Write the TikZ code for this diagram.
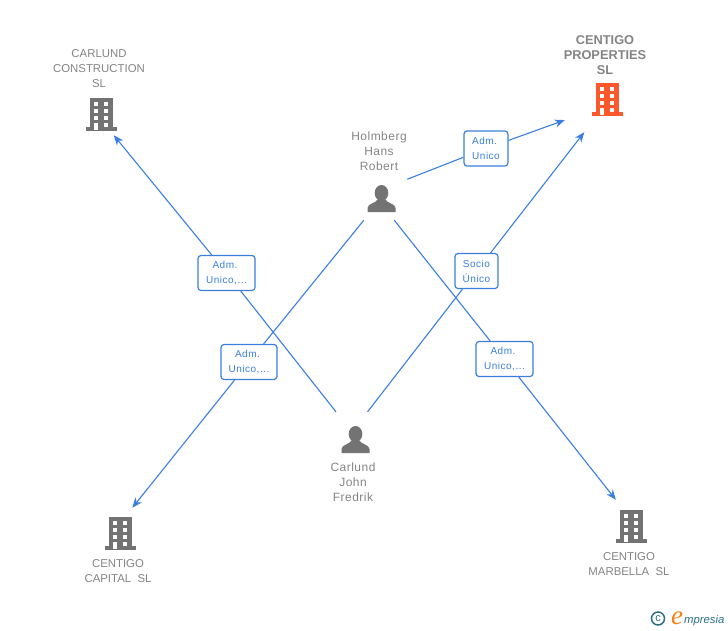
\documentclass[tikz,border=0pt]{standalone}
\usepackage{fontspec}
\setmainfont{Liberation Sans}
\newfontfamily\logofont{Liberation Serif}
\newfontfamily\spacedfont[LetterSpace=4]{Liberation Sans}
\newfontfamily\boxfont[LetterSpace=5]{Liberation Sans}
\usetikzlibrary{arrows.meta}
\definecolor{Linkblue}{RGB}{58,127,224}
\definecolor{Icongray}{RGB}{115,115,115}
\definecolor{Textgray}{RGB}{132,132,132}
\definecolor{Redorange}{RGB}{255,87,44}
\definecolor{Logoteal}{RGB}{42,110,135}
\definecolor{Logoorange}{RGB}{240,130,20}
\tikzset{
  caption/.style={text=Textgray,align=center,font=\fontsize{11.4}{15}\selectfont},
  personcap/.style={caption,font=\spacedfont\fontsize{12}{15}\selectfont},
  box/.style={draw=Linkblue,fill=white,rounded corners=3pt,text=Linkblue,align=center,line width=1.2pt,
    inner sep=0pt,minimum height=35pt,font=\boxfont\fontsize{10}{15}\selectfont,
    execute at begin node={\rule{0pt}{11.5pt}}},
  link/.style={Linkblue,line width=1.1pt},
  tip/.style={link,-{Stealth[length=10pt,width=8pt,inset=3pt]}},
  building/.pic={
    \fill (-11.5,-16) rectangle (11.5,16);\fill (-15.5,13) rectangle (15.5,16.5);
    \foreach \y in {-12,-5,2}{\fill[white] (-7.5,\y) rectangle (-3.5,\y+4);\fill[white] (2.5,\y) rectangle (6.5,\y+4);}
    \fill[white] (-7.5,9) rectangle (-3.5,16);\fill[white] (2.5,9) rectangle (6.5,13);
  },
  person/.pic={
    \fill (0.5,-6) ellipse (6.8 and 8);
    \fill (-13.5,13) -- (-13.5,9) .. controls (-13.5,4.5) and (-5,4.5) .. (-3,0) -- (4,0) .. controls (6,4.5) and (14.5,4.5) .. (14.5,9) -- (14.5,13) -- cycle;
  }
}
\begin{document}
\begin{tikzpicture}[x=1pt,y=-1pt]
          \useasboundingbox (0,0) rectangle (728,630);
          \node[minimum width=52pt,minimum height=42pt,inner sep=0pt] (holmberg) at (381,199) {};
          \node[minimum width=40pt,minimum height=56pt,inner sep=0pt] (carlund) at (355,440) {};
          \node[minimum width=82pt,minimum height=64pt,inner sep=0pt] (properties) at (606,100) {};
          \node[minimum width=40pt,minimum height=42pt,inner sep=0pt] (construction) at (101,114) {};
          \node[minimum width=40pt,minimum height=50pt,inner sep=0pt] (capital) at (120,533) {};
          \node[minimum width=40pt,minimum height=52pt,inner sep=0pt] (marbella) at (631,526) {};
          \pic[Icongray] at (381,199) {person};\pic[Icongray] at (355,440) {person};
          \pic[Redorange] at (607,99) {building};\pic[Icongray] at (101,114) {building};
          \pic[Icongray] at (120,533) {building};\pic[Icongray] at (631,526) {building};
          \node[personcap] (lblholmberg) at (379,151) {Holmberg\\Hans\\Robert};
          \node[personcap] (lblcarlund) at (353,482) {Carlund\\John\\Fredrik};
          \node[caption,font=\fontsize{12.8}{15}\selectfont\bfseries] (lblproperties) at (605,55) {CENTIGO\\PROPERTIES\\SL};
          \node[caption] (lblconstruction) at (99,69) {CARLUND\\CONSTRUCTION\\SL};
          \node[caption] (lblcapital) at (118,571.5) {CENTIGO\\CAPITAL\ \ SL};
          \node[caption] (lblmarbella) at (629,564.5) {CENTIGO\\MARBELLA\ \ SL};
          \node[box,minimum width=44pt] (boxunico) at (486,148.5) {Adm.\kern3pt\\Unico};
          \node[box,minimum width=43pt] (boxsocio) at (476.5,271) {Socio\\Único};
          \node[box,minimum width=57pt] (boxconstruction) at (226.5,273) {Adm.\kern3pt\\Unico,...};
          \node[box,minimum width=56pt] (boxcapital) at (249,362) {Adm.\kern3pt\\Unico,...};
          \node[box,minimum width=57pt] (boxmarbella) at (504.5,359) {Adm.\kern3pt\\Unico,...};
          \draw[link] (holmberg.37.6)--(boxunico);\draw[tip] (boxunico)--(properties.206);
          \draw[link] (holmberg.231)--(boxcapital);\draw[tip] (boxcapital)--(capital.64.4);
          \draw[link] (holmberg.302)--(boxmarbella);\draw[tip] (boxmarbella)--(marbella.120);
          \draw[link] (carlund.124.2)--(boxconstruction);\draw[tip] (boxconstruction)--(construction.301.8);
          \draw[link] (carlund.66.8)--(boxsocio);\draw[tip] (boxsocio)--(properties.236.7);
          \node[circle,draw=Logoteal,line width=1.5pt,text=Logoteal,inner sep=0pt,minimum size=13pt,font=\fontsize{11}{11}\selectfont] (logomark) at (658,618.5) {c};
          \node[text=Logoorange,font=\fontsize{27}{27}\logofont\itshape,inner sep=0pt,anchor=base] (logoe) at (677,624) {e};
          \node[text=Logoteal,font=\fontsize{11.3}{14}\selectfont\itshape,inner sep=0pt,anchor=base west] (logotext) at (684,623) {mpresia};
          \end{tikzpicture}
\end{document}
